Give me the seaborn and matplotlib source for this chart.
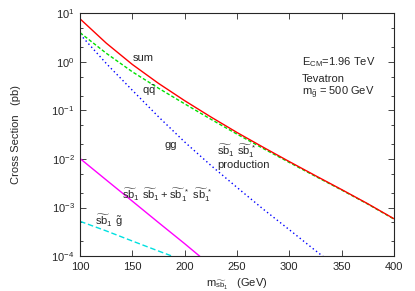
import numpy as np
import pandas as pd
import seaborn as sns
import matplotlib
matplotlib.use("Agg")
import matplotlib.pyplot as plt
from matplotlib.ticker import LogLocator, NullFormatter, MultipleLocator

# squark (sbottom) mass grid, GeV
mass = [100, 125, 150, 175, 200, 225, 250, 275, 300, 325, 350, 375, 400]

# cross sections in pb
xs_sum = [7.7, 2.44, 0.885, 0.361, 0.159, 0.0736, 0.0352, 0.0175, 0.00885, 0.00454, 0.00235, 0.0012, 0.00059]
xs_qq = [4.0, 1.51, 0.625, 0.287, 0.137, 0.066, 0.0326, 0.0165, 0.0085, 0.0044, 0.0023, 0.00118, 0.00058]
xs_gg = [3.7, 0.93, 0.26, 0.074, 0.0224, 0.0074, 0.0026, 0.00093, 0.00035, 0.00013, 0.00005]

mass_sbsb = [100, 125, 150, 175, 200, 225]
xs_sbsb = [0.0102, 0.0037, 0.00135, 0.00049, 0.00018, 0.000064]

mass_sbgl = [100, 125, 150, 175, 200]
xs_sbgl = [0.00052, 0.00033, 0.000204, 0.000127, 0.00008]

sns.set_theme(style="ticks")
plt.rcParams['font.family'] = ['Liberation Sans', 'DejaVu Sans']
plt.rcParams['mathtext.default'] = 'regular'

fig = plt.figure(figsize=(4.15, 2.91), dpi=100)
ax = fig.add_axes([0.193, 0.12, 0.756, 0.834])

sns.lineplot(x=mass, y=xs_qq, ax=ax, color='#00e000', lw=1.0, linestyle=(0, (2.5, 1.5)))
sns.lineplot(x=mass, y=xs_sum, ax=ax, color='#ff0000', lw=1.0)
sns.lineplot(x=mass[:len(xs_gg)], y=xs_gg, ax=ax, color='#0000ff', lw=1.0, linestyle=(0, (1, 2)))
sns.lineplot(x=mass_sbsb, y=xs_sbsb, ax=ax, color='#ff00ff', lw=1.0)
sns.lineplot(x=mass_sbgl, y=xs_sbgl, ax=ax, color='#00e0e0', lw=1.0, linestyle=(0, (4, 2)))

ax.set_yscale('log')
ax.set_xlim(100, 400)
ax.set_ylim(1e-4, 10)
ax.xaxis.set_major_locator(MultipleLocator(50))
ax.yaxis.set_major_locator(LogLocator(base=10, numticks=10))
ax.yaxis.set_minor_locator(LogLocator(base=10, subs=[2, 5], numticks=10))
ax.yaxis.set_minor_formatter(NullFormatter())
ax.tick_params(which='both', direction='in', top=True, right=True, labelsize=8, pad=4)
ax.tick_params(which='major', length=4, width=0.6)
ax.tick_params(which='minor', length=2.5, width=0.6)
for s in ax.spines.values():
    s.set_linewidth(0.8)

ax.set_xlabel(r'm$_{\widetilde{sb}_1}$   (GeV)', fontsize=8, labelpad=4)
ax.set_ylabel('Cross Section   (pb)', fontsize=8, labelpad=22)

# curve labels
fs = 8
ax.text(160, 1.21, 'sum', fontsize=fs, ha='center', va='center')
ax.text(166, 0.25, r'q$\bar{q}$', fontsize=fs, ha='center', va='center')
ax.text(187, 0.0195, 'gg', fontsize=fs, ha='center', va='center')
ax.text(231, 0.0145, r'$\widetilde{sb}_1\ \widetilde{sb}_1^{\,*}$', fontsize=fs, ha='left', va='center')
ax.text(231, 0.0076, 'production', fontsize=fs, ha='left', va='center')
ax.text(140, 0.00182, r'$\widetilde{sb}_1\ \widetilde{sb}_1 + \widetilde{sb}_1^{\,*}\ \widetilde{sb}_1^{\,*}$',
        fontsize=fs, ha='left', va='center')
ax.text(114, 0.00055, r'$\widetilde{sb}_1\ \tilde{g}$', fontsize=fs, ha='left', va='center')

ax.text(312, 1.0, r'E$_{CM}$=1.96 TeV', fontsize=fs, ha='left', va='center')
ax.text(312, 0.45, 'Tevatron', fontsize=fs, ha='left', va='center')
ax.text(312, 0.235, r'm$_{\tilde{g}}$ = 500 GeV', fontsize=fs, ha='left', va='center')

fig.savefig('out.png', dpi=100)
